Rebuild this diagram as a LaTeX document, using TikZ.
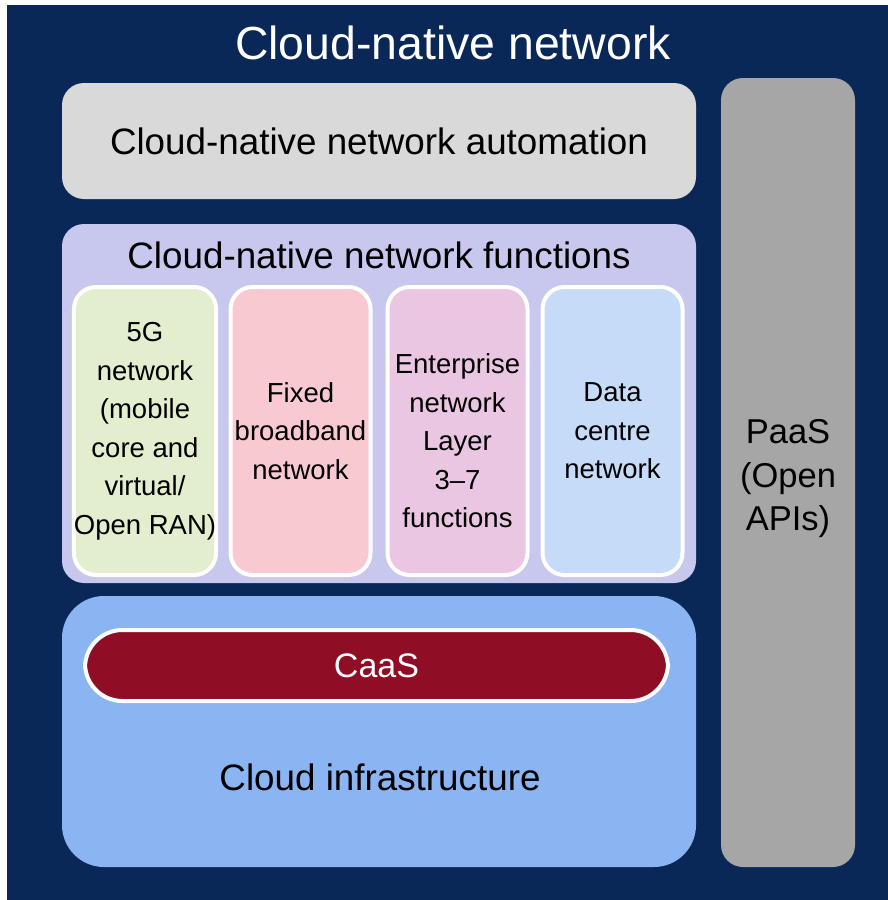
\documentclass[tikz,border=0pt]{standalone}
\usepackage{fontspec}
\setmainfont{Liberation Sans}
\usepackage{xcolor}
\usepackage{tikz}
\definecolor{navy}{HTML}{0A2857}
\definecolor{autogray}{HTML}{D9D9D9}
\definecolor{paasgray}{HTML}{A6A6A6}
\definecolor{lavender}{HTML}{C8C7EE}
\definecolor{nfgreen}{HTML}{E2EECE}
\definecolor{nfpink}{HTML}{F9C9D2}
\definecolor{nfmauve}{HTML}{EAC6E2}
\definecolor{nfblue}{HTML}{C6DBF7}
\definecolor{infrablue}{HTML}{8AB4F2}
\definecolor{caasred}{HTML}{900E25}

\begin{document}
\begin{tikzpicture}[
      x=1pt, y=-1pt,
      panel/.style={rounded corners=22pt, inner sep=0pt},
      heading/.style={font=\fontsize{36.8}{43}\selectfont},
      nfbox/.style={panel, draw=white, line width=4pt, minimum width=140pt,
        minimum height=288pt, align=center, font=\fontsize{27.5}{38.5}\selectfont}
    ]
    \fill[white] (0,0) rectangle (888,900);
    \fill[navy] (7,5) rectangle (888,900);
    \node[text=white, font=\fontsize{46.4}{52}\selectfont] (title) at (453,43) {Cloud-native network};
    \node[panel, fill=autogray, minimum width=634pt, minimum height=116pt, heading] (automation) at (379,141)
      {Cloud-native network automation};
    \node[panel, fill=paasgray, minimum width=134pt, minimum height=789pt, align=center, text height=124pt,
      font=\fontsize{34.5}{43.5}\selectfont] (paas) at (788,472.5) {PaaS\\(Open\\APIs)};
    \node[panel, fill=lavender, minimum width=634pt, minimum height=359pt] (functions) at (379,403.5) {};
    \node[heading] (fnhead) at (379,255) {Cloud-native network functions};
    \node[nfbox, fill=nfgreen] (fiveg) at (145,431)
      {5G\\network\\(mobile\\core and\\virtual/\\Open RAN)};
    \node[nfbox, fill=nfpink] (fixed) at (300.5,431) {Fixed\\broadband\\network};
    \node[nfbox, fill=nfmauve, text height=194pt] (enterprise) at (457.5,431)
      {Enterprise\\network\\Layer\\3--7\\functions};
    \node[nfbox, fill=nfblue] (datacentre) at (612.5,431) {Data\\centre\\network};
    \node[panel, rounded corners=42pt, fill=infrablue, minimum width=634pt, minimum height=271pt] (infra) at (379,731.5) {};
    \node[panel, rounded corners=37.5pt, fill=caasred, draw=white, line width=4pt, minimum width=583pt,
      minimum height=71pt, text=white, font=\fontsize{34}{40}\selectfont] (caas) at (376.5,665.5) {CaaS};
    \node[heading] (infrahead) at (380,777) {Cloud infrastructure};
\end{tikzpicture}
\end{document}
